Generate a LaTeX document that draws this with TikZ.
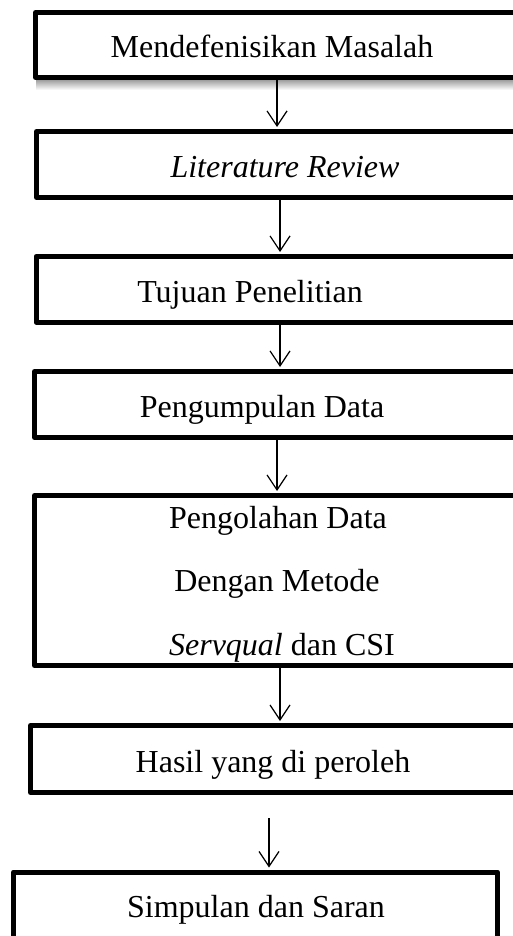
\documentclass[tikz,border=0pt]{standalone}
\usepackage{fontspec}
\setmainfont{Liberation Serif}
\usetikzlibrary{arrows.meta,fit}
\begin{document}
\begin{tikzpicture}[x=1pt,y=-1pt,
  box/.style={draw=black, line width=5pt, inner sep=0pt, line join=round},
  lbl/.style={inner sep=0pt, anchor=base, font=\fontsize{32}{38}\selectfont},
  arr/.style={line width=1.2pt, -{Straight Barb[length=15pt,width=20pt,line width=1.2pt]}, shorten >=2pt}]
\useasboundingbox (0,0) rectangle (513,936);
\clip (0,0) rectangle (513,936);
\fill[white] (0,0) rectangle (513,936);
% shadow of first box
\shade[top color=gray!75, bottom color=white] (36,80) rectangle (520,90);
\node[box, fit={(35.5,12.5) (545,77.5)}] (b1) {};
\node[box, fit={(36.5,131.5) (545,197.5)}] (b2) {};
\node[box, fit={(36,256.5) (545,322)}] (b3) {};
\node[box, fit={(34.5,371.5) (545,437.5)}] (b4) {};
\node[box, fit={(34.5,495.5) (545,665.5)}] (b5) {};
\node[box, fit={(30.5,725.5) (545,792.5)}] (b6) {};
\node[box, fit={(13.5,872) (497.5,960)}] (b7) {};
\node[lbl] (t1) at (272,58) {Mendefenisikan Masalah};
\node[lbl] (t2) at (285,178) {\itshape Literature Review};
\node[lbl] (t3) at (250,302) {Tujuan Penelitian};
\node[lbl] (t4) at (262,417) {Pengumpulan Data};
\node[lbl] (t5a) at (278,528) {Pengolahan Data};
\node[lbl] (t5b) at (277,591) {Dengan Metode};
\node[lbl] (t5c) at (282,655) {\textit{Servqual} dan CSI};
\node[lbl] (t6) at (273,772) {Hasil yang di peroleh};
\node[lbl] (t7) at (256,917) {Simpulan dan Saran};
\coordinate (s6) at (269,818);
\draw[arr] (b1.south -| 277,0) -- (b2.north -| 277,0);
\draw[arr] (b2.south -| 280,0) -- (b3.north -| 280,0);
\draw[arr] (b3.south -| 280,0) -- (b4.north -| 280,0);
\draw[arr] (b4.south -| 277,0) -- (b5.north -| 277,0);
\draw[arr] (b5.south -| 280,0) -- (b6.north -| 280,0);
\draw[arr] (s6) -- (b7.north -| s6);
\end{tikzpicture}
\end{document}
